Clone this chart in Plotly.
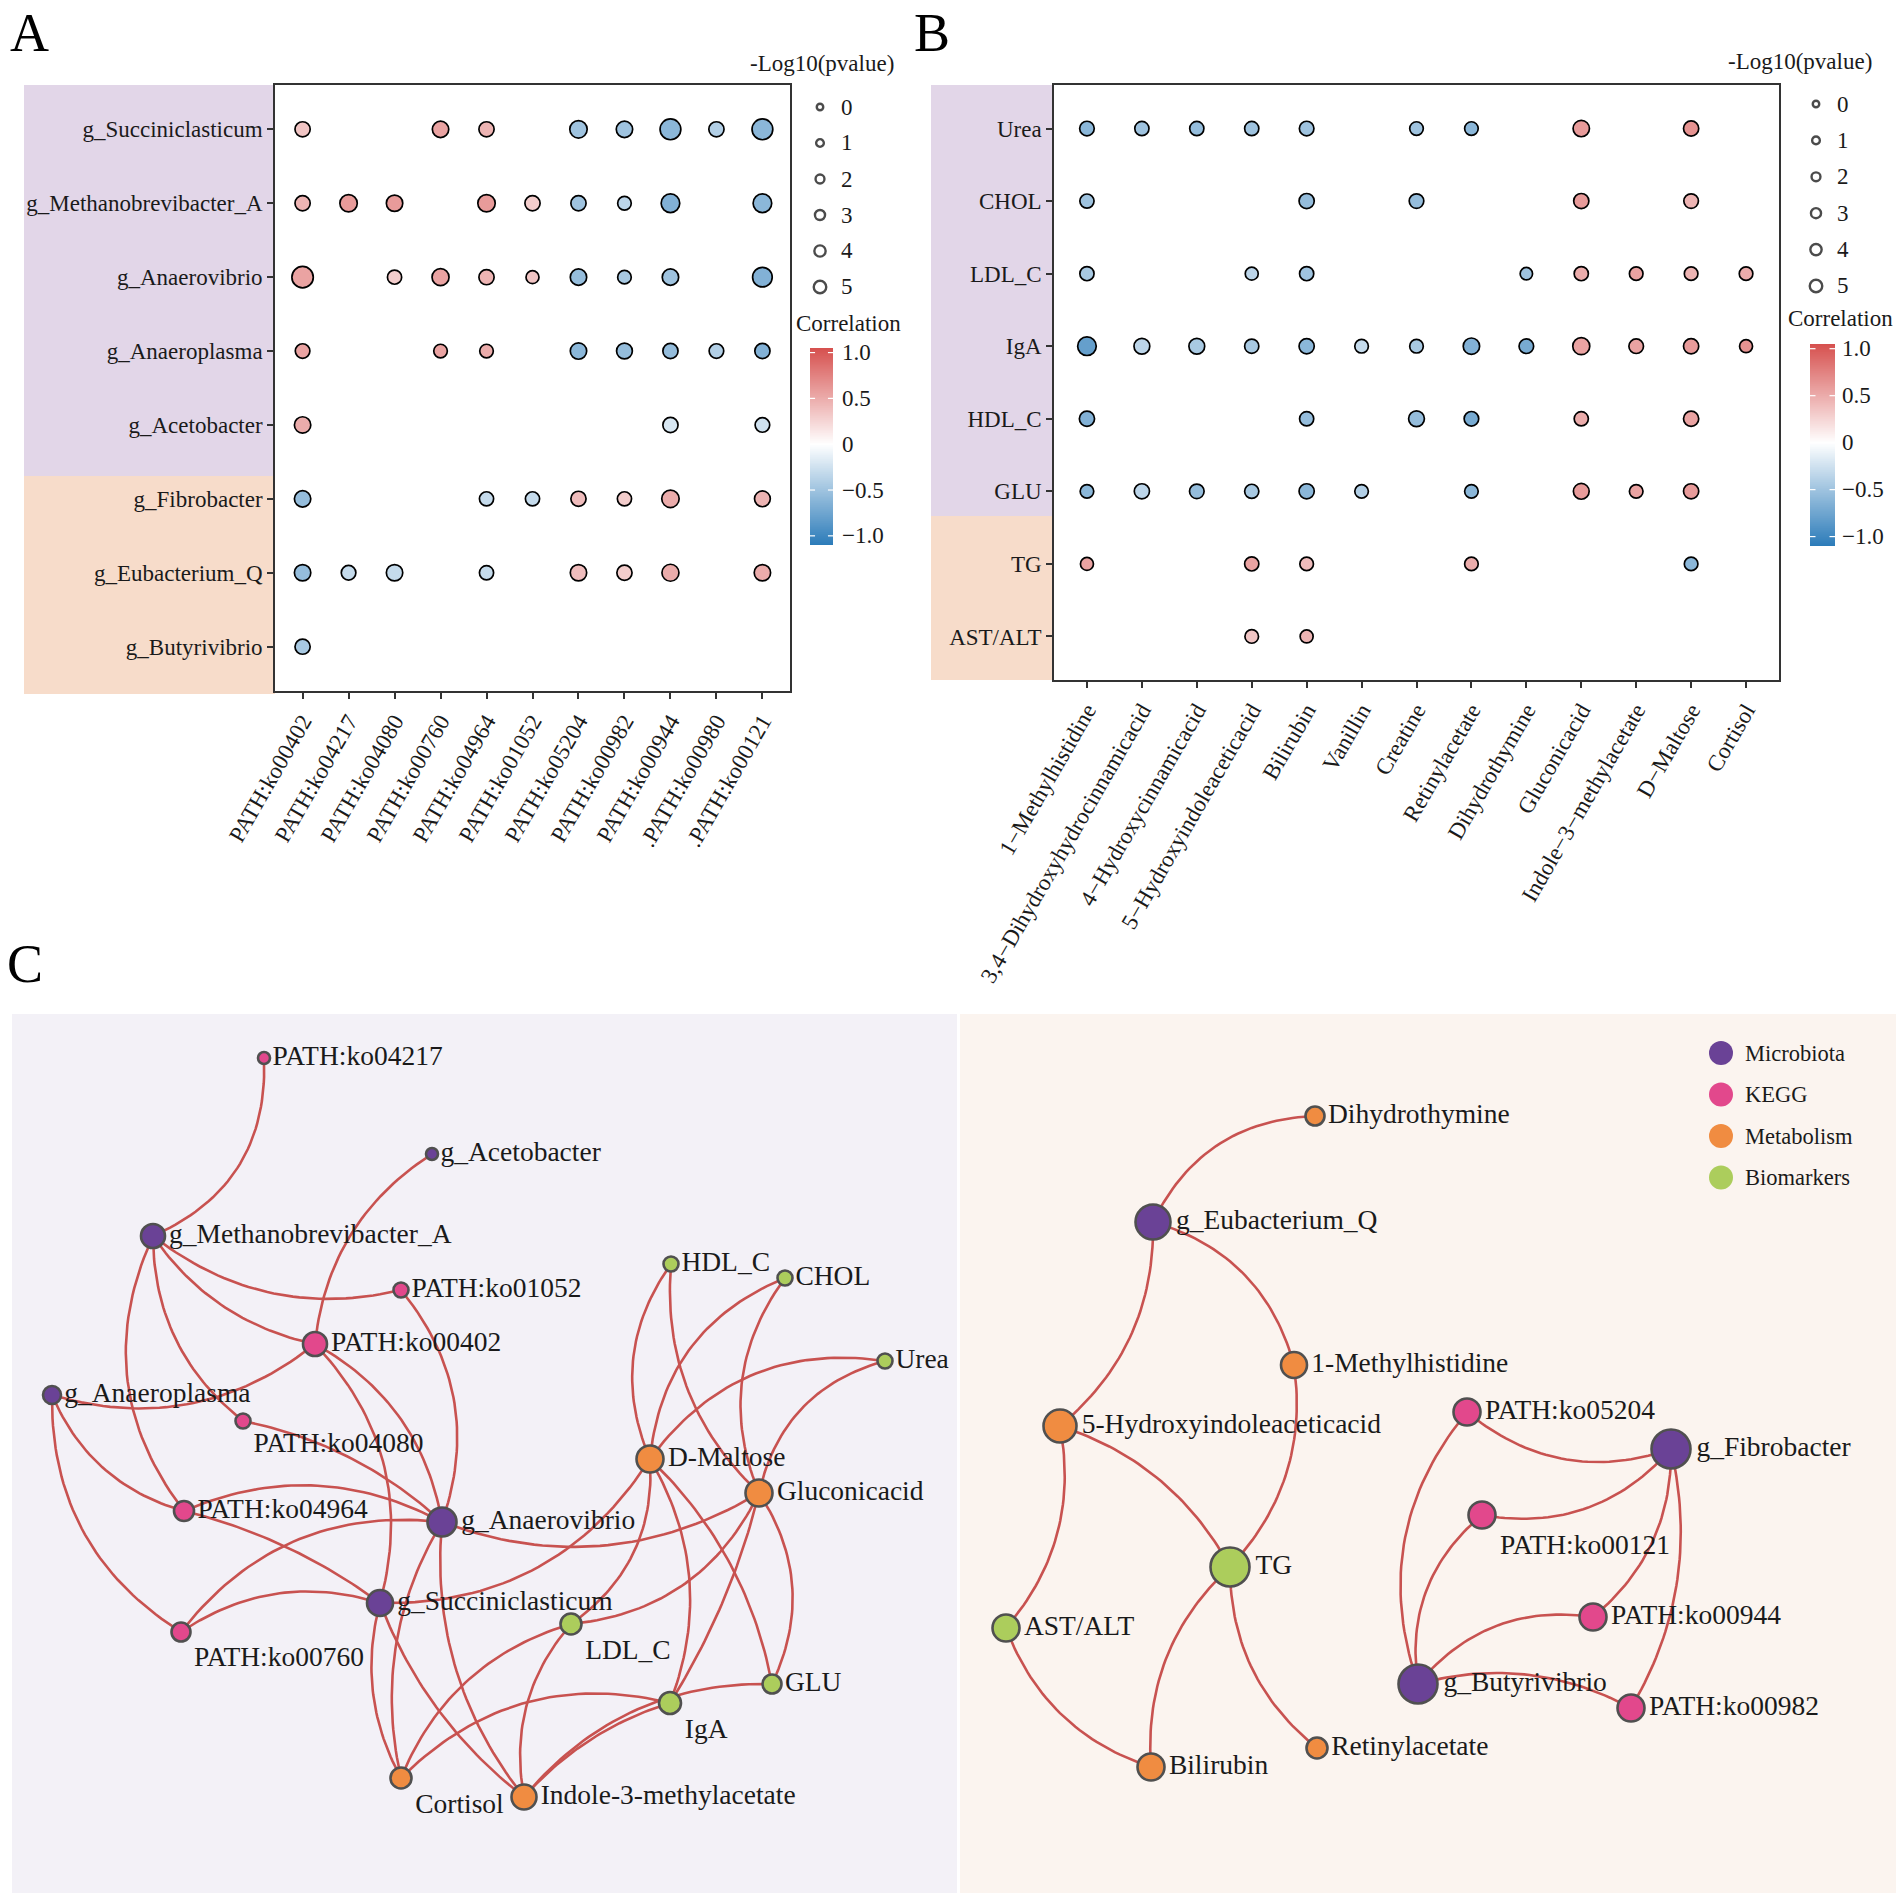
import numpy as np
import plotly.graph_objects as go

W, H = 1902, 1900
FONT = "Liberation Serif"
TXT = "#1a1a1a"
N = None

# ---------------- Panel A data ----------------
A_rows = ["g_Succiniclasticum", "g_Methanobrevibacter_A", "g_Anaerovibrio", "g_Anaeroplasma",
          "g_Acetobacter", "g_Fibrobacter", "g_Eubacterium_Q", "g_Butyrivibrio"]
A_cols = ["PATH:ko00402", "PATH:ko04217", "PATH:ko04080", "PATH:ko00760", "PATH:ko04964",
          "PATH:ko01052", "PATH:ko05204", "PATH:ko00982", "PATH:ko00944", ".PATH:ko00980", ".PATH:ko00121"]
A_corr = [
    [0.35, N, N, 0.55, 0.45, N, -0.50, -0.50, -0.60, -0.40, -0.60],
    [0.45, 0.60, 0.60, N, 0.60, 0.30, -0.50, -0.35, -0.65, N, -0.60],
    [0.55, N, 0.30, 0.55, 0.45, 0.35, -0.55, -0.45, -0.50, N, -0.65],
    [0.55, N, N, 0.55, 0.50, N, -0.60, -0.55, -0.55, -0.40, -0.65],
    [0.50, N, N, N, N, N, N, N, -0.20, N, -0.25],
    [-0.55, N, N, N, -0.30, -0.30, 0.40, 0.30, 0.50, N, 0.45],
    [-0.55, -0.30, -0.30, N, -0.30, N, 0.40, 0.30, 0.50, N, 0.50],
    [-0.45, N, N, N, N, N, N, N, N, N, N],
]
A_logp = [
    [2.2, N, N, 2.8, 2.2, N, 3.3, 2.8, 5.0, 2.2, 5.0],
    [2.2, 3.3, 2.8, N, 3.3, 2.2, 2.2, 1.4, 3.9, N, 3.9],
    [5.3, N, 1.7, 3.1, 2.2, 1.1, 2.8, 1.4, 2.8, N, 4.4],
    [1.9, N, N, 1.4, 1.4, N, 2.8, 2.5, 2.2, 1.9, 2.2],
    [2.8, N, N, N, N, N, N, N, 2.2, N, 1.9],
    [2.8, N, N, N, 1.7, 1.7, 2.2, 1.7, 3.3, N, 2.5],
    [2.8, 1.9, 2.8, N, 1.7, N, 2.8, 2.2, 3.1, N, 2.8],
    [2.2, N, N, N, N, N, N, N, N, N, N],
]

# ---------------- Panel B data ----------------
B_rows = ["Urea", "CHOL", "LDL_C", "IgA", "HDL_C", "GLU", "TG", "AST/ALT"]
B_cols = ["1\u2212Methylhistidine", "3,4\u2212Dihydroxyhydrocinnamicacid", "4\u2212Hydroxycinnamicacid",
          "5\u2212Hydroxyindoleaceticacid", "Bilirubin", "Vanillin", "Creatine", "Retinylacetate",
          "Dihydrothymine", "Gluconicacid", "Indole\u22123\u2212methylacetate", "D\u2212Maltose", "Cortisol"]
B_corr = [
    [-0.60, -0.50, -0.55, -0.50, -0.50, N, -0.50, -0.60, N, 0.60, N, 0.65, N],
    [-0.50, N, N, N, -0.55, N, -0.55, N, N, 0.60, N, 0.45, N],
    [-0.45, N, N, -0.35, -0.50, N, N, N, -0.50, 0.50, 0.55, 0.45, 0.50],
    [-0.80, -0.35, -0.45, -0.45, -0.60, -0.30, -0.45, -0.65, -0.70, 0.55, 0.55, 0.60, 0.65],
    [-0.65, N, N, N, -0.55, N, -0.55, -0.70, N, 0.50, N, 0.55, N],
    [-0.60, -0.35, -0.55, -0.45, -0.60, -0.40, N, -0.60, N, 0.60, 0.55, 0.60, N],
    [0.55, N, N, 0.55, 0.40, N, N, 0.50, N, N, N, -0.60, N],
    [N, N, N, 0.35, 0.45, N, N, N, N, N, N, N, N],
]
B_logp = [
    [1.9, 1.7, 1.7, 1.7, 1.9, N, 1.4, 1.4, N, 2.8, N, 2.2, N],
    [1.7, N, N, N, 2.2, N, 1.9, N, N, 2.2, N, 1.9, N],
    [1.7, N, N, 1.1, 1.7, N, N, N, 0.8, 1.7, 1.4, 1.4, 1.4],
    [3.9, 2.5, 2.5, 1.7, 2.2, 1.4, 1.4, 2.8, 1.9, 3.1, 1.9, 2.2, 1.1],
    [2.2, N, N, N, 1.7, N, 2.5, 1.9, N, 1.7, N, 2.2, N],
    [1.4, 2.2, 1.9, 1.7, 2.2, 1.4, N, 1.4, N, 2.5, 1.4, 2.2, N],
    [1.1, N, N, 1.7, 1.4, N, N, 1.4, N, N, N, 1.4, N],
    [N, N, N, 1.4, 1.1, N, N, N, N, N, N, N, N],
]

SIZE_BREAKS = [0, 1, 2, 3, 4, 5]
CORR_TICKS = [-1.0, -0.5, 0.0, 0.5, 1.0]
CORR_TICKTEXT = ["\u22121.0", "\u22120.5", "0", "0.5", "1.0"]

# ---------------- Panel C data (network) ----------------
GROUPS = ["Microbiota", "KEGG", "Metabolism", "Biomarkers"]
GROUP_COLORS = {"Microbiota": "#6A4296", "KEGG": "#E2488C", "Metabolism": "#F08C41", "Biomarkers": "#ACCD5C"}

node_name = ["PATH:ko04217", "g_Acetobacter", "g_Methanobrevibacter_A", "PATH:ko01052", "PATH:ko00402",
             "g_Anaeroplasma", "PATH:ko04080", "PATH:ko04964", "g_Anaerovibrio", "g_Succiniclasticum",
             "PATH:ko00760", "HDL_C", "CHOL", "Urea", "D-Maltose", "Gluconicacid", "LDL_C", "GLU", "IgA",
             "Cortisol", "Indole-3-methylacetate",
             "Dihydrothymine", "g_Eubacterium_Q", "1-Methylhistidine", "5-Hydroxyindoleaceticacid", "TG",
             "AST/ALT", "Bilirubin", "Retinylacetate", "PATH:ko05204", "g_Fibrobacter", "PATH:ko00121",
             "PATH:ko00944", "g_Butyrivibrio", "PATH:ko00982"]
node_group = ["KEGG", "Microbiota", "Microbiota", "KEGG", "KEGG",
              "Microbiota", "KEGG", "KEGG", "Microbiota", "Microbiota",
              "KEGG", "Biomarkers", "Biomarkers", "Biomarkers", "Metabolism", "Metabolism", "Biomarkers",
              "Biomarkers", "Biomarkers", "Metabolism", "Metabolism",
              "Metabolism", "Microbiota", "Metabolism", "Metabolism", "Biomarkers",
              "Biomarkers", "Metabolism", "Metabolism", "KEGG", "Microbiota", "KEGG",
              "KEGG", "Microbiota", "KEGG"]
node_x = [264, 432, 153, 401, 315, 52, 243, 184, 442, 380, 181, 671, 785, 885, 650, 759, 571, 772, 670, 401, 524,
          1315, 1153, 1294, 1060, 1230, 1006, 1151, 1317, 1467, 1671, 1482, 1593, 1418, 1631]
node_y = [1058, 1154, 1236, 1290, 1344, 1395, 1421, 1511, 1522, 1603, 1632, 1264, 1278, 1361, 1459, 1493, 1624,
          1684, 1703, 1778, 1797,
          1116, 1222, 1365, 1426, 1567, 1628, 1767, 1748, 1412, 1449, 1515, 1617, 1684, 1708]
node_size = [12, 12, 24, 15, 24, 18, 15, 20, 29, 26, 19, 15, 15, 15, 27, 27, 21, 19, 22, 21, 25,
             19, 35, 26, 33, 39, 27, 27, 21, 27, 39, 27, 27, 39, 27]
node_label_pos = ["middle right"] * len(node_name)
for nm in ["PATH:ko04080", "PATH:ko00760", "LDL_C", "IgA", "Cortisol", "PATH:ko00121"]:
    node_label_pos[node_name.index(nm)] = "bottom right"

edges = [
    ("g_Methanobrevibacter_A", "PATH:ko04217"), ("g_Methanobrevibacter_A", "PATH:ko01052"),
    ("g_Methanobrevibacter_A", "PATH:ko00402"), ("g_Methanobrevibacter_A", "PATH:ko04964"),
    ("g_Methanobrevibacter_A", "PATH:ko04080"), ("g_Acetobacter", "PATH:ko00402"),
    ("g_Anaeroplasma", "PATH:ko00402"), ("g_Anaeroplasma", "PATH:ko04964"), ("g_Anaeroplasma", "PATH:ko00760"),
    ("g_Anaerovibrio", "PATH:ko00402"), ("g_Anaerovibrio", "PATH:ko01052"), ("g_Anaerovibrio", "PATH:ko04080"),
    ("g_Anaerovibrio", "PATH:ko04964"), ("g_Anaerovibrio", "PATH:ko00760"), ("g_Anaerovibrio", "Gluconicacid"),
    ("g_Anaerovibrio", "Indole-3-methylacetate"), ("g_Anaerovibrio", "Cortisol"),
    ("g_Succiniclasticum", "PATH:ko00402"), ("g_Succiniclasticum", "PATH:ko04964"),
    ("g_Succiniclasticum", "PATH:ko00760"), ("g_Succiniclasticum", "D-Maltose"),
    ("g_Succiniclasticum", "Cortisol"), ("g_Succiniclasticum", "Indole-3-methylacetate"),
    ("D-Maltose", "HDL_C"), ("D-Maltose", "CHOL"), ("D-Maltose", "Urea"), ("D-Maltose", "LDL_C"),
    ("D-Maltose", "IgA"), ("D-Maltose", "GLU"),
    ("Gluconicacid", "HDL_C"), ("Gluconicacid", "CHOL"), ("Gluconicacid", "Urea"), ("Gluconicacid", "LDL_C"),
    ("Gluconicacid", "IgA"), ("Gluconicacid", "GLU"),
    ("LDL_C", "Cortisol"), ("LDL_C", "Indole-3-methylacetate"), ("IgA", "Cortisol"),
    ("IgA", "Indole-3-methylacetate"), ("GLU", "Indole-3-methylacetate"),
    ("g_Eubacterium_Q", "Dihydrothymine"), ("g_Eubacterium_Q", "1-Methylhistidine"),
    ("g_Eubacterium_Q", "5-Hydroxyindoleaceticacid"), ("1-Methylhistidine", "TG"),
    ("5-Hydroxyindoleaceticacid", "TG"), ("5-Hydroxyindoleaceticacid", "AST/ALT"), ("AST/ALT", "Bilirubin"),
    ("TG", "Bilirubin"), ("TG", "Retinylacetate"),
    ("PATH:ko05204", "g_Fibrobacter"), ("PATH:ko05204", "g_Butyrivibrio"), ("PATH:ko00121", "g_Fibrobacter"),
    ("PATH:ko00121", "g_Butyrivibrio"), ("g_Fibrobacter", "PATH:ko00944"), ("g_Fibrobacter", "PATH:ko00982"),
    ("g_Butyrivibrio", "PATH:ko00944"), ("g_Butyrivibrio", "PATH:ko00982"),
]
# edge curvature style: (bulge side, bulge fraction)
edge_bend = [
    ("right", 0.17), ("down", 0.12), ("down", 0.10), ("left", 0.15), ("left", 0.12), ("left", 0.12),
    ("down", 0.13), ("down", 0.12), ("left", 0.14),
    ("right", 0.12), ("right", 0.14), ("up", 0.07), ("up", 0.12), ("up", 0.14), ("down", 0.12),
    ("left", 0.10), ("left", 0.10),
    ("right", 0.14), ("up", 0.05), ("up", 0.12), ("down", 0.14), ("left", 0.10), ("left", 0.07),
    ("left", 0.14), ("left", 0.15), ("up", 0.15), ("right", 0.14), ("right", 0.12), ("right", 0.08),
    ("left", 0.12), ("left", 0.14), ("left", 0.15), ("down", 0.14), ("right", 0.04), ("right", 0.14),
    ("up", 0.12), ("left", 0.12), ("up", 0.14), ("up", 0.07), ("up", 0.12),
    ("up", 0.15), ("up", 0.14), ("right", 0.12), ("right", 0.12), ("up", 0.10), ("right", 0.12),
    ("down", 0.12), ("left", 0.12), ("left", 0.12),
    ("down", 0.14), ("left", 0.14), ("down", 0.14), ("left", 0.14), ("right", 0.12), ("right", 0.10),
    ("up", 0.14), ("up", 0.10),
]

# ---------------- helpers ----------------
def px(x):
    return x / W


def py(y):
    return 1 - y / H


def flatten(rows, cols, corr, logp):
    xs, ys, cs, ss = [], [], [], []
    for i, r in enumerate(rows):
        for j, c in enumerate(cols):
            if corr[i][j] is not None:
                xs.append(c); ys.append(r); cs.append(corr[i][j]); ss.append(logp[i][j])
    return xs, ys, cs, ss


def dot_size(v):
    return 10.8 + 2.0 * v


def legend_size(v):
    return 6.5 + 1.2 * v


CMIN, CMAX = -1.1, 1.05
mid = (0 - CMIN) / (CMAX - CMIN)
COLORSCALE = [[0, "#2B7BB9"], [mid, "#FFFFFF"], [1, "#D6504E"]]
AX_FONT = 23

fig = go.Figure()
annotations = []
shapes = []

# ---------- dot plots ----------
for (rows, cols, corr, logp, xa, ya) in [
    (A_rows, A_cols, A_corr, A_logp, "x", "y"),
    (B_rows, B_cols, B_corr, B_logp, "x2", "y2"),
]:
    xs, ys, cs, ss = flatten(rows, cols, corr, logp)
    fig.add_trace(go.Scatter(
        x=xs, y=ys, mode="markers", xaxis=xa, yaxis=ya, hoverinfo="skip",
        marker=dict(color=cs, coloraxis="coloraxis", size=[dot_size(v) for v in ss],
                    line=dict(color="black", width=1.7), opacity=1),
    ))

# ---------- manual colour bars (heatmap strips) ----------
bar_vals = np.linspace(CMIN, CMAX, 300)
for (xa, ya, lab_x) in [("x4", "y4", 840), ("x5", "y5", 1840)]:
    fig.add_trace(go.Heatmap(
        z=bar_vals.reshape(-1, 1), y=bar_vals, x=[0], xaxis=xa, yaxis=ya, coloraxis="coloraxis",
        hoverinfo="skip",
    ))
    for v, tt in zip(CORR_TICKS, CORR_TICKTEXT):
        annotations.append(dict(x=px(lab_x), y=v, xref="paper", yref=ya, text=tt, showarrow=False,
                                xanchor="left", yanchor="middle", font=dict(family=FONT, size=AX_FONT, color=TXT)))
        for (x0, x1) in [(-0.5, -0.28), (0.28, 0.5)]:
            shapes.append(dict(type="line", xref=xa, yref=ya, x0=x0, x1=x1, y0=v, y1=v,
                               line=dict(color="white", width=1.2), layer="above"))

# ---------- size legends (pixel overlay axis) ----------
for (lx, ly0, dy, tx) in [(820, 107, 36, 839), (1816, 104, 36.4, 1835)]:
    ly = [ly0 + i * dy for i in range(len(SIZE_BREAKS))]
    fig.add_trace(go.Scatter(
        x=[lx] * len(SIZE_BREAKS), y=ly, mode="markers", xaxis="x3", yaxis="y3", hoverinfo="skip",
        marker=dict(color="white", size=[legend_size(v) for v in SIZE_BREAKS],
                    line=dict(color="black", width=2.4)),
    ))
    for v, yy in zip(SIZE_BREAKS, ly):
        annotations.append(dict(x=px(tx), y=py(yy), xref="paper", yref="paper", text=str(v), showarrow=False,
                                xanchor="left", yanchor="middle",
                                font=dict(family=FONT, size=AX_FONT, color=TXT)))

# ---------- network edges ----------
pos = {n: (x, y) for n, x, y in zip(node_name, node_x, node_y)}
SIDE = {"up": (0, -1), "down": (0, 1), "left": (-1, 0), "right": (1, 0)}
ex, ey = [], []
t = np.linspace(0, 1, 40)
for (a, b), (side, k) in zip(edges, edge_bend):
    p = np.array(pos[a], float)
    q = np.array(pos[b], float)
    d = q - p
    L = np.hypot(*d)
    n1 = np.array([-d[1], d[0]]) / L
    if np.dot(n1, SIDE[side]) < 0:
        n1 = -n1
    c = (p + q) / 2 + n1 * 2 * k * L
    pts = ((1 - t) ** 2)[:, None] * p + (2 * (1 - t) * t)[:, None] * c + (t ** 2)[:, None] * q
    ex += list(pts[:, 0]) + [None]
    ey += list(pts[:, 1]) + [None]

fig.add_trace(go.Scatter(x=ex, y=ey, mode="lines", xaxis="x3", yaxis="y3", hoverinfo="skip",
                         line=dict(color="#C85250", width=2.6)))

# ---------- network nodes ----------
fig.add_trace(go.Scatter(
    x=node_x, y=node_y, mode="markers+text", xaxis="x3", yaxis="y3", hoverinfo="skip",
    text=node_name, textposition=node_label_pos,
    textfont=dict(family=FONT, size=27.5, color=TXT),
    marker=dict(color=[GROUP_COLORS[g] for g in node_group], size=node_size,
                line=dict(color="#505050", width=2.6), opacity=1),
))

# ---------- network legend ----------
leg_y = [1053 + i * 41.5 for i in range(len(GROUPS))]
fig.add_trace(go.Scatter(
    x=[1721] * len(GROUPS), y=leg_y, mode="markers", xaxis="x3", yaxis="y3", hoverinfo="skip",
    marker=dict(color=[GROUP_COLORS[g] for g in GROUPS], size=24),
))
for g, yy in zip(GROUPS, leg_y):
    annotations.append(dict(x=px(1743), y=py(yy), xref="paper", yref="paper", text=g, showarrow=False,
                            xanchor="left", yanchor="middle", font=dict(family=FONT, size=22.5, color=TXT)))

# ---------- titles / panel letters ----------
for (txt, x, y) in [("-Log10(pvalue)", 822, 64), ("Correlation", 848, 323),
                    ("-Log10(pvalue)", 1800, 61), ("Correlation", 1840, 318)]:
    annotations.append(dict(x=px(x), y=py(y), xref="paper", yref="paper", text=txt, showarrow=False,
                            xanchor="center", yanchor="middle", font=dict(family=FONT, size=AX_FONT, color=TXT)))
for (txt, x, y) in [("A", 8, 33), ("B", 912, 33), ("C", 5, 964)]:
    annotations.append(dict(x=px(x), y=py(y), xref="paper", yref="paper", text=txt, showarrow=False,
                            xanchor="left", yanchor="middle", font=dict(family=FONT, size=54, color="black")))

# ---------- background shapes ----------
for (x0, y0, x1, y1, col) in [
    (24, 85, 275, 476, "#E2D6E8"), (24, 476, 275, 694, "#F7DCCA"),
    (931, 85, 1054, 516, "#E2D6E8"), (931, 516, 1054, 680, "#F7DCCA"),
    (12, 1014, 957, 1893, "#F3F1F7"), (960, 1014, 1896, 1893, "#FBF4EF"),
]:
    shapes.append(dict(type="rect", xref="paper", yref="paper", x0=px(x0), x1=px(x1), y0=py(y1), y1=py(y0),
                       fillcolor=col, line=dict(width=0), layer="below"))

axis_common = dict(showline=True, mirror=True, linecolor="#333333", linewidth=1.6, ticks="outside",
                   ticklen=6, tickwidth=1.6, tickcolor="#333333", showgrid=False, zeroline=False,
                   tickfont=dict(family=FONT, size=AX_FONT, color=TXT), type="category", fixedrange=True)
hidden = dict(visible=False, fixedrange=True, showgrid=False, zeroline=False)

fig.update_layout(
    width=W, height=H, margin=dict(l=0, r=0, t=0, b=0, autoexpand=False), showlegend=False,
    paper_bgcolor="white", plot_bgcolor="rgba(0,0,0,0)",
    xaxis=dict(axis_common, domain=[px(275), px(790)], anchor="y", categoryorder="array",
               categoryarray=A_cols, range=[-0.6, len(A_cols) - 0.4], tickangle=-60),
    yaxis=dict(axis_common, domain=[py(691), py(85)], anchor="x", categoryorder="array",
               categoryarray=A_rows, range=[len(A_rows) - 0.4, -0.6]),
    xaxis2=dict(axis_common, domain=[px(1054), px(1779)], anchor="y2", categoryorder="array",
                categoryarray=B_cols, range=[-0.6, len(B_cols) - 0.4], tickangle=-60),
    yaxis2=dict(axis_common, domain=[py(680), py(85)], anchor="x2", categoryorder="array",
                categoryarray=B_rows, range=[len(B_rows) - 0.4, -0.6]),
    xaxis3=dict(hidden, domain=[0, 1], range=[0, W], anchor="y3"),
    yaxis3=dict(hidden, domain=[0, 1], range=[H, 0], anchor="x3"),
    xaxis4=dict(hidden, domain=[px(810), px(833)], range=[-0.5, 0.5], anchor="y4"),
    yaxis4=dict(hidden, domain=[py(545), py(348)], range=[CMIN, CMAX], anchor="x4"),
    xaxis5=dict(hidden, domain=[px(1810), px(1835)], range=[-0.5, 0.5], anchor="y5"),
    yaxis5=dict(hidden, domain=[py(546), py(344)], range=[CMIN, CMAX], anchor="x5"),
    coloraxis=dict(colorscale=COLORSCALE, cmin=CMIN, cmax=CMAX, showscale=False),
    annotations=annotations, shapes=shapes,
)

fig.write_html("out.html", config={"displayModeBar": False},
               post_script="document.body.style.margin='0px';document.body.style.overflow='hidden';")
